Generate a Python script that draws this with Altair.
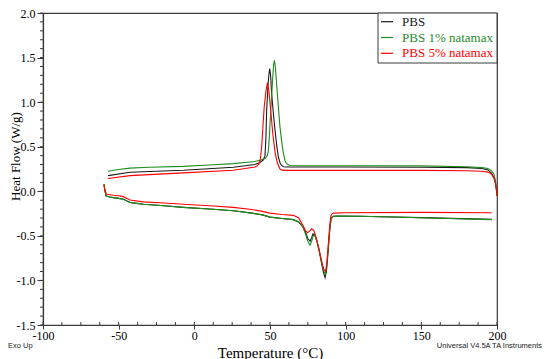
import altair as alt
import pandas as pd

series_names = ["PBS", "PBS 1% natamax", "PBS 5% natamax"]
series_colors = ["#1a1a1a", "#1f8c1f", "#ff0000"]

# ---- cooling scans (upper curves, exo up) ----
pbs_cool_t = [-57, -42.5, -7.3, 25.8, 40, 43, 45.5, 46.7, 47.3, 47.8, 48.4, 48.9, 49.4, 49.8,
              50.4, 51.1, 52.2, 53.3, 54.4, 55.5, 56.6, 57.7, 59, 61, 100, 150, 180, 190, 194,
              196.5, 198, 199, 199.6, 200]
pbs_cool_hf = [0.176, 0.214, 0.236, 0.27, 0.30, 0.32, 0.35, 0.40, 0.60, 0.91, 1.10, 1.24, 1.33, 1.376,
               1.30, 1.09, 0.88, 0.69, 0.52, 0.39, 0.32, 0.29, 0.275, 0.272, 0.272, 0.27, 0.265, 0.255, 0.24,
               0.20, 0.15, 0.09, 0.02, -0.05]

n1_cool_t = [-57, -50, -42.5, -30, -7.3, 10, 25.8, 35, 40, 44, 47, 48.2, 48.9, 49.7, 50.5, 51.2,
             51.8, 52.4, 52.9, 53.5, 54.4, 55.5, 56.6, 57.7, 58.8, 60, 61, 63, 70, 100, 150, 180,
             190, 194, 196.5, 198, 199, 199.6, 200]
n1_cool_hf = [0.225, 0.245, 0.26, 0.27, 0.28, 0.295, 0.31, 0.325, 0.335, 0.35, 0.37, 0.40, 0.45, 0.65,
              0.91, 1.10, 1.28, 1.42, 1.47, 1.40, 1.20, 0.95, 0.72, 0.56, 0.43, 0.34, 0.31, 0.29, 0.287,
              0.287, 0.285, 0.275, 0.265, 0.255, 0.23, 0.19, 0.12, 0.03, -0.05]

n5_cool_t = [-57, -42.5, -7.3, 25.8, 40.1, 41.5, 42.7, 43.6, 44.5, 45.3, 46.2, 47.3, 48.3, 49.3,
             50.5, 52, 53.5, 54.9, 56.6, 58, 62, 100, 150, 180, 190, 194, 196.5, 198, 199, 199.6, 200]
n5_cool_hf = [0.143, 0.176, 0.206, 0.236, 0.272, 0.285, 0.31, 0.36, 0.50, 0.72, 0.95, 1.12, 1.22, 1.12,
              0.90, 0.62, 0.42, 0.317, 0.25, 0.237, 0.235, 0.235, 0.235, 0.23, 0.225, 0.215, 0.19, 0.15,
              0.09, 0.02, -0.05]

# ---- heating scans (lower curves) ----
pbs_heat_t = [-59.7, -59.2, -58.4, -56, -53.5, -50, -46.9, -44.5, -42.5, -38, -33.7, -20, -7.3, 10,
              25.8, 38, 45, 50, 58, 65.4, 69, 71.8, 73.5, 75, 76.5, 77.5, 78.4, 79.6, 81, 82.5, 84,
              85.3, 86.4, 87.3, 88.4, 89.4, 90.2, 90.9, 92, 95, 109.5, 150, 196.5]
pbs_heat_hf = [0.077, 0.02, -0.052, -0.065, -0.071, -0.08, -0.089, -0.11, -0.126, -0.136, -0.145, -0.162,
               -0.18, -0.198, -0.218, -0.245, -0.265, -0.29, -0.305, -0.318, -0.345, -0.40, -0.46, -0.53,
               -0.56, -0.52, -0.477, -0.49, -0.56, -0.67, -0.80, -0.91, -0.968, -0.90, -0.68, -0.45, -0.33,
               -0.292, -0.28, -0.277, -0.28, -0.295, -0.315]

n1_heat_t = [-59.7, -59.2, -58.4, -56, -53.5, -50, -46.9, -44.5, -42.5, -38, -33.7, -20, -7.3, 10,
             25.8, 38, 45, 50, 58, 65.4, 69, 71.8, 73.5, 75, 76.5, 77.5, 78.6, 79.8, 81, 82.5, 84,
             85.3, 86.4, 87.3, 88.4, 89.4, 90.2, 90.9, 92, 95, 109.5, 150, 196.5]
n1_heat_hf = [0.077, 0.02, -0.052, -0.065, -0.071, -0.08, -0.089, -0.11, -0.126, -0.136, -0.145, -0.162,
              -0.18, -0.198, -0.218, -0.245, -0.265, -0.29, -0.305, -0.318, -0.345, -0.40, -0.48, -0.56,
              -0.606, -0.56, -0.495, -0.50, -0.56, -0.66, -0.78, -0.88, -0.93, -0.86, -0.65, -0.44, -0.33,
              -0.292, -0.28, -0.277, -0.28, -0.297, -0.318]

n5_heat_t = [-59.7, -59.2, -58, -53.5, -50, -46.9, -44.5, -42.5, -33.7, -20, -7.3, 10, 25.8, 38, 45,
             50, 58, 65.4, 69, 71.8, 73.5, 74.7, 76, 77.5, 79, 80.5, 82, 83.5, 85, 86, 86.8, 87.6,
             88.5, 89.5, 90.2, 90.8, 92, 100, 150, 196.5]
n5_heat_hf = [0.077, 0.02, -0.034, -0.045, -0.05, -0.06, -0.08, -0.097, -0.119, -0.132, -0.145, -0.162,
              -0.18, -0.205, -0.225, -0.245, -0.26, -0.27, -0.30, -0.385, -0.44, -0.466, -0.45, -0.42,
              -0.44, -0.52, -0.62, -0.74, -0.85, -0.89, -0.894, -0.80, -0.60, -0.38, -0.28, -0.256,
              -0.245, -0.24, -0.237, -0.24]

x_major_ticks = [-100, -50, 0, 50, 100, 150, 200]
y_major_ticks = [-1.5, -1.0, -0.5, 0.0, 0.5, 1.0, 1.5, 2.0]
x_minor_ticks = [-100 + 12.5 * i for i in range(25)]
y_minor_ticks = [round(-1.5 + 0.1 * i, 1) for i in range(36)]

curves = [
    ("PBS", "cool", pbs_cool_t, pbs_cool_hf),
    ("PBS 1% natamax", "cool", n1_cool_t, n1_cool_hf),
    ("PBS 5% natamax", "cool", n5_cool_t, n5_cool_hf),
    ("PBS", "heat", pbs_heat_t, pbs_heat_hf),
    ("PBS 1% natamax", "heat", n1_heat_t, n1_heat_hf),
    ("PBS 5% natamax", "heat", n5_heat_t, n5_heat_hf),
]
rows = []
for name, seg, ts, hfs in curves:
    for i, (t, h) in enumerate(zip(ts, hfs)):
        rows.append({"series": name, "curve": name + "-" + seg, "idx": i, "T": t, "HF": h})
df = pd.DataFrame(rows)

color_scale = alt.Scale(domain=series_names, range=series_colors)
serif = "Liberation Serif"
axis_col = "#3a3a3a"
x_scale = alt.Scale(domain=[-100, 200], nice=False, zero=False)
y_scale = alt.Scale(domain=[-1.5, 2.0], nice=False, zero=False)

lines = alt.Chart(df).mark_line(strokeWidth=1.1).encode(
    x=alt.X("T:Q", title="Temperature (°C)", scale=x_scale,
            axis=alt.Axis(values=x_major_ticks, grid=False, labelFlush=False, labelOverlap=False,
                          labelFont=serif, labelFontSize=12, titleFont=serif, tickSize=4,
                          labelExpr="'' + datum.value",
                          labelPadding=1, titleY=27, titleBaseline="middle", titleFontSize=15)),
    y=alt.Y("HF:Q", title="Heat Flow (W/g)", scale=y_scale,
            axis=alt.Axis(values=y_major_ticks, grid=False, labelFlush=False, labelOverlap=False,
                          labelFont=serif, labelFontSize=12, titleFont=serif, tickSize=6,
                          labelExpr="(datum.value < -0.001 ? '-' : '') + format(abs(datum.value), '.1f')",
                          labelPadding=2, titleX=-21, titleY=143, titleFontSize=13)),
    color=alt.Color("series:N", scale=color_scale, legend=None),
    detail="curve:N",
    order="idx:Q",
)

# minor tick marks drawn as short rules along the axes
xm_df = pd.DataFrame({"t": x_minor_ticks})
ym_df = pd.DataFrame({"h": y_minor_ticks})
x_minor = alt.Chart(xm_df).mark_rule(color=axis_col, strokeWidth=1).encode(
    x=alt.X("t:Q", scale=x_scale), y=alt.value(309), y2=alt.value(312))
y_minor = alt.Chart(ym_df).mark_rule(color=axis_col, strokeWidth=1).encode(
    y=alt.Y("h:Q", scale=y_scale), x=alt.value(0), x2=alt.value(-3))

leg_df = pd.DataFrame({"series": series_names, "i": list(range(len(series_names)))})

leg_box = alt.Chart(leg_df).mark_rect(fill="white", stroke=axis_col, strokeWidth=1).encode(
    x=alt.value(335), x2=alt.value(454), y=alt.value(0), y2=alt.value(50)
).transform_filter("datum.i === 0")

leg_base = alt.Chart(leg_df).transform_calculate(ly="8.7 + 15.8 * datum.i")
leg_lines = leg_base.mark_rule(strokeWidth=1.2).encode(
    x=alt.value(338), x2=alt.value(350),
    y=alt.Y("ly:Q", scale=None),
    color=alt.Color("series:N", scale=color_scale, legend=None),
)
leg_text = leg_base.mark_text(align="left", baseline="middle", font=serif, fontSize=13).encode(
    x=alt.value(359),
    y=alt.Y("ly:Q", scale=None),
    text="series:N",
    color=alt.Color("series:N", scale=color_scale, legend=None),
)

note_df = pd.DataFrame({"left": ["Exo Up"], "right": ["Universal V4.5A TA Instruments"]})
note_left = alt.Chart(note_df).mark_text(align="left", baseline="middle", font="Liberation Sans",
                                         fontSize=7.5, color="#222").encode(
    x=alt.value(-35), y=alt.value(333), text="left:N")
note_right = alt.Chart(note_df).mark_text(align="right", baseline="middle", font="Liberation Sans",
                                          fontSize=7.5, color="#222").encode(
    x=alt.value(499), y=alt.value(333), text="right:N")

chart = alt.layer(lines, x_minor, y_minor, leg_box, leg_lines, leg_text, note_left, note_right).properties(
    width=454, height=312,
    background="white",
    autosize=alt.AutoSizeParams(type="none"),
    padding={"left": 35, "top": 5, "right": 45, "bottom": 34},
).configure(font=serif).configure_view(stroke=axis_col, strokeWidth=1.2).configure_axis(
    domainColor=axis_col, tickColor=axis_col, labelColor="black", titleColor="black",
    labelFont=serif, labelFontSize=12, titleFont=serif, titleFontWeight="normal",
    domainWidth=1.2,
)

chart.save("out.html", embed_options={"renderer": "svg", "actions": False})
